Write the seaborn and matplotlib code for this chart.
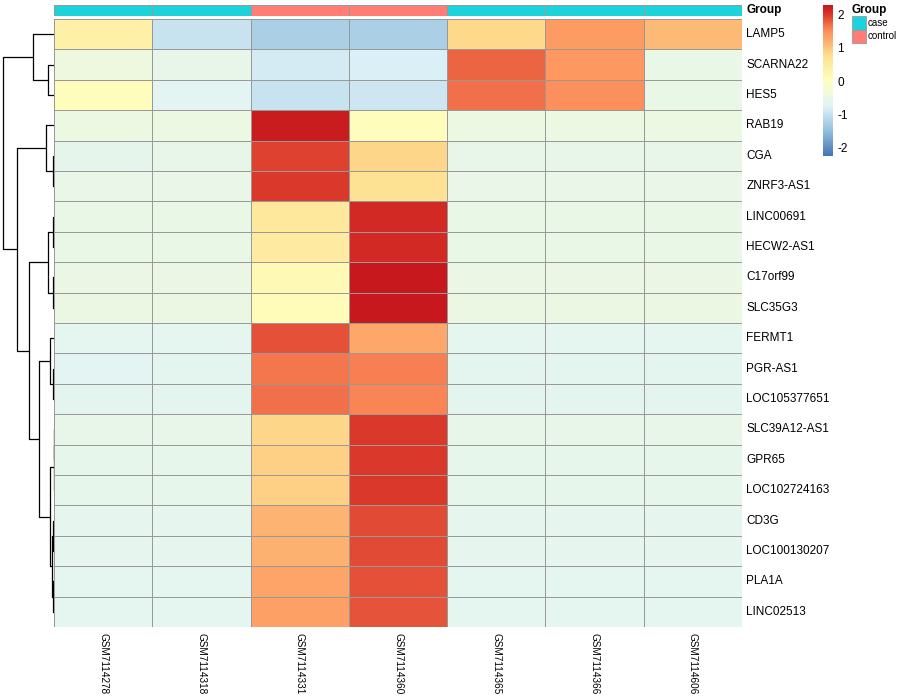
import numpy as np
import pandas as pd
import matplotlib
matplotlib.use("Agg")
import matplotlib.pyplot as plt
from matplotlib.colors import LinearSegmentedColormap, ListedColormap
from matplotlib.patches import Rectangle
import seaborn as sns

### Data (row-scaled expression)

samples = ["GSM7114278", "GSM7114318", "GSM7114331", "GSM7114360",
           "GSM7114365", "GSM7114366", "GSM7114606"]
groups = ["case", "case", "control", "control", "case", "case", "case"]

genes = ["LAMP5", "SCARNA22", "HES5", "RAB19", "CGA", "ZNRF3-AS1",
         "LINC00691", "HECW2-AS1", "C17orf99", "SLC35G3", "FERMT1",
         "PGR-AS1", "LOC105377651", "SLC39A12-AS1", "GPR65",
         "LOC102724163", "CD3G", "LOC100130207", "PLA1A", "LINC02513"]

values = [
    [0.35, -0.98, -1.24, -1.24, 0.81, 1.37, 1.10],
    [-0.42, -0.55, -0.86, -0.81, 1.74, 1.40, -0.52],
    [0.05, -0.68, -0.98, -0.92, 1.67, 1.46, -0.52],
    [-0.45, -0.45, 2.20, 0.05, -0.45, -0.45, -0.45],
    [-0.60, -0.55, 1.95, 0.83, -0.55, -0.55, -0.55],
    [-0.54, -0.54, 2.00, 0.70, -0.54, -0.54, -0.54],
    [-0.53, -0.53, 0.55, 2.10, -0.53, -0.53, -0.53],
    [-0.52, -0.52, 0.50, 2.10, -0.52, -0.52, -0.52],
    [-0.48, -0.48, 0.15, 2.25, -0.48, -0.48, -0.48],
    [-0.47, -0.47, 0.10, 2.25, -0.47, -0.47, -0.47],
    [-0.62, -0.62, 1.85, 1.25, -0.62, -0.62, -0.62],
    [-0.66, -0.64, 1.63, 1.58, -0.64, -0.64, -0.64],
    [-0.64, -0.64, 1.67, 1.54, -0.64, -0.64, -0.64],
    [-0.56, -0.56, 0.83, 1.99, -0.56, -0.56, -0.56],
    [-0.57, -0.57, 0.88, 1.99, -0.57, -0.57, -0.57],
    [-0.57, -0.57, 0.88, 1.99, -0.57, -0.57, -0.57],
    [-0.61, -0.61, 1.16, 1.89, -0.61, -0.61, -0.61],
    [-0.61, -0.61, 1.17, 1.89, -0.61, -0.61, -0.61],
    [-0.62, -0.62, 1.27, 1.85, -0.62, -0.62, -0.62],
    [-0.63, -0.63, 1.33, 1.83, -0.63, -0.63, -0.63],
]

# row dendrogram: (left, right, height); ids >= 20 are earlier merges
merges = [
    (1, 2, 5.7),      # 20
    (0, 20, 21.3),    # 21
    (4, 5, 0.7),      # 22
    (3, 22, 8.3),     # 23
    (6, 7, 0.7),      # 24
    (8, 9, 1.0),      # 25
    (24, 25, 6.3),    # 26
    (11, 12, 0.7),    # 27
    (10, 27, 4.0),    # 28
    (13, 14, 0.2),    # 29
    (29, 15, 0.4),    # 30
    (16, 17, 0.8),    # 31
    (18, 19, 0.6),    # 32
    (31, 32, 1.6),    # 33
    (30, 33, 4.0),    # 34
    (28, 34, 14.7),   # 35
    (26, 35, 24.7),   # 36
    (23, 36, 36.7),   # 37
    (21, 37, 51.3),   # 38
]

group_colors = {"case": "#1CD3DB", "control": "#FF7D74"}

###

sns.set_style("white")
plt.rcParams["font.family"] = ["Liberation Sans", "DejaVu Sans"]
for key in ["text.color", "xtick.color", "ytick.color", "axes.labelcolor"]:
    plt.rcParams[key] = "black"

df = pd.DataFrame(values, index=genes, columns=samples)

stops = [(-2.24, "#4575B4"), (-1.5, "#91BFDB"), (-0.75, "#E0F3F8"),
         (0.0, "#FFFFBF"), (0.75, "#FEE090"), (1.5, "#FC8D59"),
         (2.05, "#D73027"), (2.27, "#C4161C")]
vmin, vmax = stops[0][0], stops[-1][0]
cmap = LinearSegmentedColormap.from_list(
    "pheat", [((v - vmin) / (vmax - vmin), c) for v, c in stops])

W, H = 900, 700
fig = plt.figure(figsize=(9, 7), dpi=100)

def px_axes(x0, y0, x1, y1):
    return fig.add_axes([x0 / W, 1 - y1 / H, (x1 - x0) / W, (y1 - y0) / H])

ax_hm = px_axes(54, 19, 742, 627)
ax_an = px_axes(54, 5, 742, 15.5)
ax_dn = px_axes(0, 19, 54, 627)
ax_cb = px_axes(823, 5, 833, 156)

grid_kw = dict(linewidths=0.5, linecolor="#999999")

sns.heatmap(df, ax=ax_hm, cmap=cmap, vmin=vmin, vmax=vmax, cbar_ax=ax_cb,
            cbar_kws={"ticks": [-2, -1, 0, 1, 2]}, **grid_kw)
ax_hm.yaxis.tick_right()
ax_hm.tick_params(axis="both", length=0)
ax_hm.tick_params(axis="y", pad=3, labelsize=8.5)
ax_hm.tick_params(axis="x", pad=4, labelsize=7.2)
plt.setp(ax_hm.get_yticklabels(), rotation=0, va="center")
plt.setp(ax_hm.get_xticklabels(), rotation=270, ha="center", va="top")
ax_hm.set_xlabel("")
ax_hm.set_ylabel("")

cb = ax_hm.collections[0].colorbar
cb.outline.set_visible(False)
cb.ax.tick_params(length=0, labelsize=8.5, pad=3)
cb.ax.set_yticklabels(["-2", "-1", "0", "1", "2"])

# annotation bar
group_levels = list(group_colors)
codes = pd.DataFrame([[group_levels.index(g) for g in groups]],
                     index=["Group"], columns=samples)
sns.heatmap(codes, ax=ax_an, cmap=ListedColormap([group_colors[g] for g in group_levels]),
            vmin=-0.5, vmax=1.5, cbar=False, xticklabels=False, yticklabels=False,
            **grid_kw)
ax_an.text(1.006, 0.5, "Group", transform=ax_an.transAxes, ha="left",
           va="center", fontsize=8.5, fontweight="bold")

# row dendrogram
pos = {i: i + 0.5 for i in range(len(genes))}
hgt = {i: 0.0 for i in range(len(genes))}
for k, (a, b, h) in enumerate(merges):
    nid = len(genes) + k
    for c in (a, b):
        ax_dn.plot([hgt[c], h], [pos[c], pos[c]], color="black", lw=0.9)
    ax_dn.plot([h, h], [pos[a], pos[b]], color="black", lw=0.9)
    pos[nid] = (pos[a] + pos[b]) / 2
    hgt[nid] = h
ax_dn.set_xlim(54, 0)
ax_dn.set_ylim(len(genes), 0)
ax_dn.axis("off")

# group legend, drawn by hand like pheatmap does
fig.text(852 / W, 1 - 10 / H, "Group", fontsize=8.5, fontweight="bold",
         ha="left", va="center")
for i, g in enumerate(group_levels):
    y0 = 16 + i * 13.5
    fig.add_artist(Rectangle((852 / W, 1 - (y0 + 13.5) / H), 14 / W, 13.5 / H,
                             facecolor=group_colors[g], edgecolor="#999999",
                             lw=0.6, transform=fig.transFigure))
    fig.text(868 / W, 1 - (y0 + 6.8) / H, g, fontsize=7, ha="left", va="center")

fig.savefig("out.png", dpi=100)
